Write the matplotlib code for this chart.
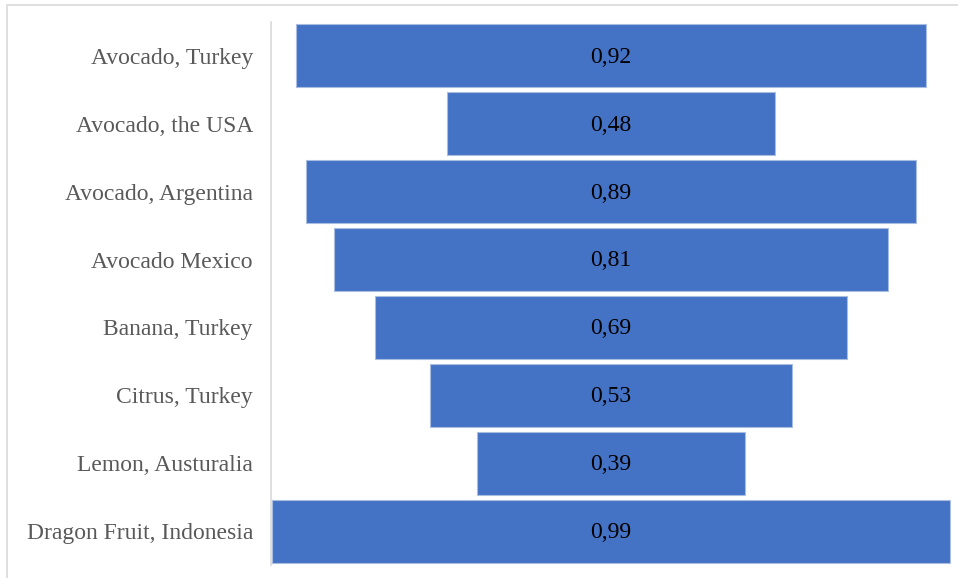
import matplotlib.pyplot as plt
from matplotlib.patches import Rectangle

labels = ["Avocado, Turkey", "Avocado, the USA", "Avocado, Argentina", "Avocado Mexico",
          "Banana, Turkey", "Citrus, Turkey", "Lemon, Austuralia", "Dragon Fruit, Indonesia"]
values = [0.92, 0.48, 0.89, 0.81, 0.69, 0.53, 0.39, 0.99]
value_text = ["0,92", "0,48", "0,89", "0,81", "0,69", "0,53", "0,39", "0,99"]

plt.rcParams['font.family'] = ['Liberation Serif', 'DejaVu Serif']

fig = plt.figure(figsize=(9.58, 5.78), dpi=100)
ax = fig.add_axes([271 / 958, 1 - 565 / 578, 680 / 958, 543 / 578])

xmax = 0.993
ys = list(range(len(values)))
lefts = [(xmax - v) / 2 for v in values]
ax.barh(ys, values, left=lefts, height=0.93, color="#4472C4",
        edgecolor="#a9bde3", linewidth=0.8)
for y, l, v, t in zip(ys, lefts, values, value_text):
    ax.text(l + v / 2, y + 0.02, t, ha="center", va="center", fontsize=17, color="black")

ax.set_xlim(0, xmax)
ax.set_ylim(len(values) - 0.5, -0.5)
ax.set_yticks(ys)
ax.set_yticklabels(labels, fontsize=17, color="#595959")
ax.tick_params(axis="y", length=0, pad=13)
ax.set_xticks([])
for s in ["top", "right", "bottom"]:
    ax.spines[s].set_visible(False)
ax.spines["left"].set_color("#d9d9d9")
ax.spines["left"].set_linewidth(1.2)

# outer chart border (cropped on right and bottom)
fig.patches.append(Rectangle((7 / 958, -0.05), 1.0, 1 - 5 / 578 + 0.05,
                             transform=fig.transFigure, fill=False,
                             edgecolor="#d9d9d9", linewidth=1.2))

fig.savefig("out.png", dpi=100)
